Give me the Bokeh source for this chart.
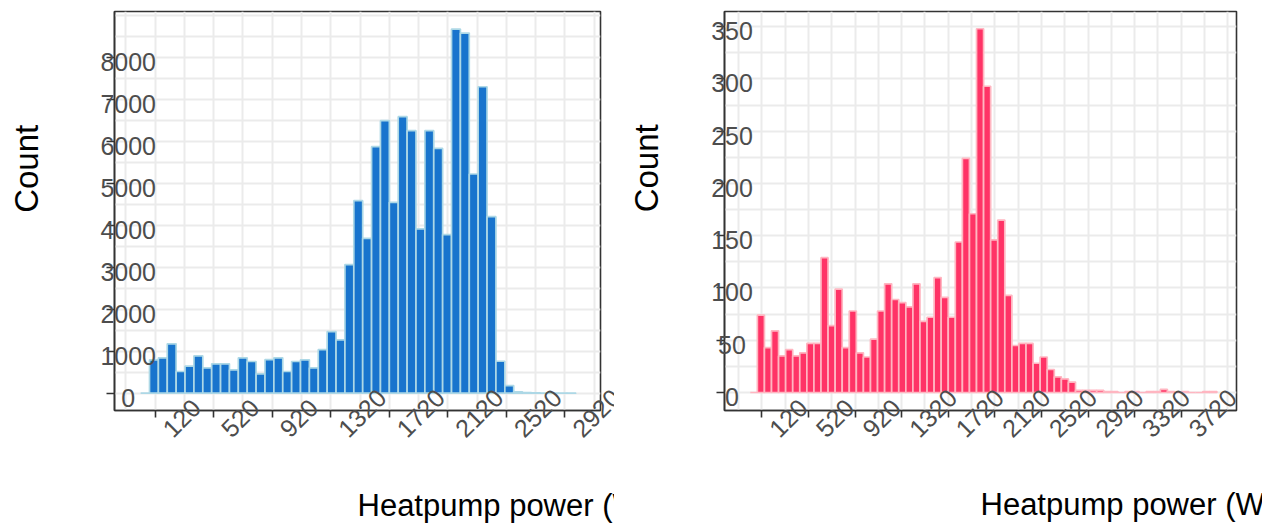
import math
from bokeh.plotting import figure
from bokeh.layouts import row
from bokeh.models import ColumnDataSource, FixedTicker, Range1d
from bokeh.core.properties import value
from bokeh.embed import file_html
from bokeh.resources import INLINE

FONT = "Liberation Sans"

# histogram bins (W)
bin_start = 20.5
bin_width = 60.7

# counts per bin, left panel
left_counts = [0, 795, 843, 1176, 517, 643, 890, 605, 700, 700, 557, 843, 755, 461,
               802, 843, 517, 755, 795, 605, 1040, 1469, 1270, 3064, 4588, 3690, 5874,
               6493, 4548, 6588, 6255, 3914, 6255, 5833, 3779, 8676, 8581, 5223, 7302,
               4207, 762, 183, 30, 12, 6, 3, 2, 1, 1]

# counts per bin, right panel
right_counts = [0, 74, 43, 59, 35, 41, 35, 38, 47, 47, 129, 64, 99, 43, 78, 38, 34, 51,
                78, 104, 89, 86, 82, 104, 68, 72, 110, 91, 72, 144, 224, 171, 348, 293,
                146, 165, 93, 45, 47, 47, 28, 34, 22, 15, 13, 10,
                2, 2, 2, 2, 1, 1, 0, 1, 1, 0, 1, 1, 3, 1, 0, 1, 0, 0, 1, 1]

left_xticks = [120, 520, 920, 1320, 1720, 2120, 2520, 2920]
left_xminor = [-80, 320, 720, 1120, 1520, 1920, 2320, 2720, 3120]
right_xticks = [120, 520, 920, 1320, 1720, 2120, 2520, 2920, 3320, 3720]
right_xminor = [-80, 320, 720, 1120, 1520, 1920, 2320, 2720, 3120, 3520, 3920, 4120]

left_yticks = [0, 1000, 2000, 3000, 4000, 5000, 6000, 7000, 8000]
left_yminor = [500, 1500, 2500, 3500, 4500, 5500, 6500, 7500, 8500, 9000]
right_yticks = [0, 50, 100, 150, 200, 250, 300, 350]
right_yminor = [25, 75, 125, 175, 225, 275, 325]

x_title = "Heatpump power (W)"
y_title = "Count"

left_fill, left_line = "#1874CD", "#ADD8E6"
right_fill, right_line = "#FF3366", "#FFB6C1"

TICK_COLOR = "#4d4d4d"
FRAME_COLOR = "#333333"
GRID_COLOR = "#ebebeb"
HEIGHT = 527
BORDER_TOP = 11
TITLE_MIDDLE = 505.3   # page y of the middle of the x title
COUNT_CENTER = 168.3   # page y of the centre of "Count"


def panel(counts, fill, line, xr, yr, xticks, xminor, yticks, yminor,
          width, border_left, frame_w, frame_h, ylab_dx, count_dx):
    p = figure(width=width, height=HEIGHT, x_range=Range1d(*xr), y_range=Range1d(*yr),
               output_backend="svg", toolbar_location=None,
               min_border_left=border_left, min_border_top=BORDER_TOP,
               min_border_bottom=HEIGHT - BORDER_TOP - frame_h,
               min_border_right=width - border_left - frame_w,
               background_fill_color="white", border_fill_color="white",
               outline_line_color=FRAME_COLOR, outline_line_width=1.6)
    n = len(counts)
    lefts = [bin_start + i * bin_width for i in range(n)]
    rights = [l + bin_width for l in lefts]
    src = ColumnDataSource(dict(left=lefts, right=rights, top=counts))
    p.quad(left="left", right="right", top="top", bottom=0, source=src,
           fill_color=fill, line_color=line, line_width=1.7)

    p.xaxis.ticker = FixedTicker(ticks=xticks, minor_ticks=xminor)
    p.yaxis.ticker = FixedTicker(ticks=yticks, minor_ticks=yminor)
    for ax, out in ((p.xaxis, 7), (p.yaxis, 8)):
        ax.major_label_text_color = None
        ax.major_label_text_font_size = "0px"
        ax.major_label_standoff = 0
        ax.major_tick_in = 0
        ax.major_tick_out = out
        ax.major_tick_line_color = FRAME_COLOR
        ax.major_tick_line_width = 1.6
        ax.minor_tick_line_color = None
        ax.axis_line_color = FRAME_COLOR
        ax.axis_line_width = 1.6
    for g in (p.xgrid, p.ygrid):
        g.grid_line_color = GRID_COLOR
        g.grid_line_width = 2
        g.minor_grid_line_color = GRID_COLOR
        g.minor_grid_line_width = 2

    x0, x1 = xr
    y0, y1 = yr
    frame_bottom = BORDER_TOP + frame_h
    common = dict(text_font=value(FONT), level="annotation")

    # y tick labels
    ysrc = ColumnDataSource(dict(x=[x0] * len(yticks), y=yticks,
                                 text=[str(v) for v in yticks]))
    p.text(x="x", y="y", text="text", source=ysrc, x_offset=ylab_dx, y_offset=4.5,
           text_align="center", text_baseline="middle", text_font_size="25px",
           text_color=TICK_COLOR, **common)
    # x tick labels (rotated 45 degrees)
    xsrc = ColumnDataSource(dict(x=xticks, y=[y0] * len(xticks),
                                 text=[str(v) for v in xticks]))
    p.text(x="x", y="y", text="text", source=xsrc, x_offset=11.6, y_offset=22.2,
           angle=math.pi / 4, text_align="left", text_baseline="middle",
           text_font_size="25px", text_color=TICK_COLOR, **common)
    # x axis title: starts at the frame centre
    tsrc = ColumnDataSource(dict(x=[(x0 + x1) / 2], y=[y0], text=[x_title]))
    p.text(x="x", y="y", text="text", source=tsrc, x_offset=0,
           y_offset=TITLE_MIDDLE - frame_bottom,
           text_align="left", text_baseline="middle", text_font_size="31px",
           text_color="black", **common)
    # y axis title
    csrc = ColumnDataSource(dict(x=[x0], y=[(y0 + y1) / 2], text=[y_title]))
    p.text(x="x", y="y", text="text", source=csrc, x_offset=count_dx,
           y_offset=COUNT_CENTER - (BORDER_TOP + frame_h / 2), angle=math.pi / 2,
           text_align="center", text_baseline="middle", text_font_size="33px",
           text_color="black", **common)
    return p


# left: frame x 114..600, y 11..410
p1 = panel(left_counts, left_fill, left_line, (-158, 3163), (-412, 9095),
           left_xticks, left_xminor, left_yticks, left_yminor,
           width=614, border_left=114, frame_w=486, frame_h=399,
           ylab_dx=13.7, count_dx=-88.1)

# right: frame x 724..1236, y 11..411
p2 = panel(right_counts, right_fill, right_line, (-201, 4195), (-17.2, 364.5),
           right_xticks, right_xminor, right_yticks, right_yminor,
           width=648, border_left=110, frame_w=512, frame_h=400,
           ylab_dx=7.5, count_dx=-78.1)

layout = row(p1, p2)
open("out.html", "w").write(file_html(layout, INLINE))
